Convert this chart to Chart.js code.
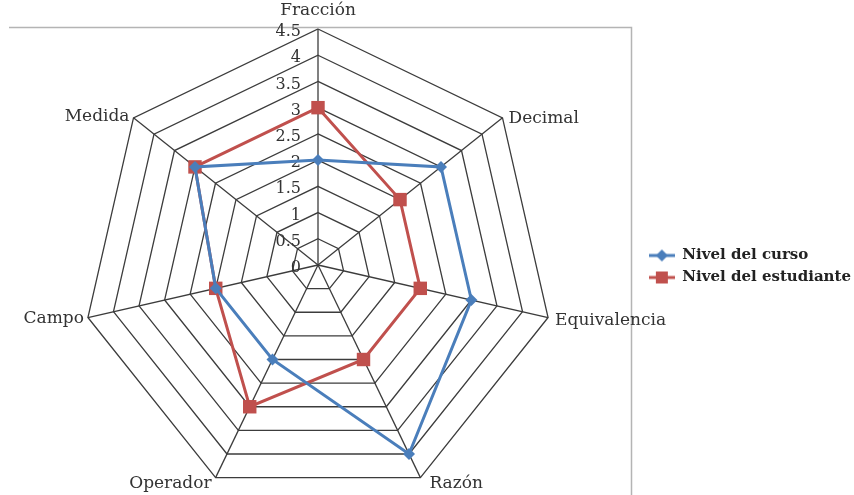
<!DOCTYPE html>
<html>
<head>
<meta charset="utf-8">
<script src="https://cdn.jsdelivr.net/npm/chart.js@4/dist/chart.umd.min.js"></script>
<style>
  html, body { margin: 0; padding: 0; background: #ffffff; }
  #wrap { width: 854px; height: 495px; position: relative; }
</style>
</head>
<body>
<div id="wrap"><canvas id="c" width="854" height="495"></canvas></div>
<script>
// Axes of the radar, clockwise from the top
const categories = ['Fracción', 'Decimal', 'Equivalencia', 'Razón', 'Operador', 'Campo', 'Medida'];
// Level reached on each axis
const nivelCurso = [2, 3, 3, 4, 2, 2, 3];
const nivelEstudiante = [3, 2, 2, 2, 3, 2, 3];
// Radial tick values
const tickValues = [0, 0.5, 1, 1.5, 2, 2.5, 3, 3.5, 4, 4.5];
const seriesNames = ['Nivel del curso', 'Nivel del estudiante'];

const BLUE = '#4A7EBB';
const RED = '#C0504D';
const TEXT = '#333333';
const SERIF = '"DejaVu Serif", "Liberation Serif", serif';

// Legend key: short line with the series marker on top
function legendKey(color, shape) {
  const cv = document.createElement('canvas');
  cv.width = 26; cv.height = 14;
  const g = cv.getContext('2d');
  g.strokeStyle = color; g.lineWidth = 3;
  g.beginPath(); g.moveTo(0, 7); g.lineTo(26, 7); g.stroke();
  g.fillStyle = color;
  g.beginPath();
  if (shape === 'diamond') {
    g.moveTo(13, 1); g.lineTo(19, 7); g.lineTo(13, 13); g.lineTo(7, 7);
  } else {
    g.rect(7, 1, 12, 12);
  }
  g.closePath(); g.fill();
  return cv;
}
const keys = [legendKey(BLUE, 'diamond'), legendKey(RED, 'square')];

// Places the polar grid inside the plot frame
const radarPlacement = {
  id: 'radarPlacement',
  afterLayout(chart) {
    const r = chart.scales.r;
    r.xCenter = 318;
    r.yCenter = 265;
    r.drawingArea = 236;
  }
};

// Plot frame, tick labels and axis names
const radarText = {
  id: 'radarText',
  beforeDatasetsDraw(chart) {
    const ctx = chart.ctx;
    const r = chart.scales.r;
    ctx.save();
    // frame lines (top and right)
    ctx.strokeStyle = '#b4b4b4';
    ctx.lineWidth = 1.5;
    ctx.beginPath();
    ctx.moveTo(9, 27.5); ctx.lineTo(631.5, 27.5); ctx.lineTo(631.5, 495);
    ctx.stroke();
    // tick labels
    ctx.font = '16px ' + SERIF;
    ctx.fillStyle = TEXT;
    ctx.textAlign = 'right';
    ctx.textBaseline = 'middle';
    tickValues.forEach(v => {
      const d = r.getDistanceFromCenterForValue(v);
      ctx.fillText(String(v), r.xCenter - 17, r.yCenter - d + 3);
    });
    ctx.restore();
  },
  afterDraw(chart) {
    const ctx = chart.ctx;
    const r = chart.scales.r;
    const outer = r.getDistanceFromCenterForValue(r.max);
    // per-axis placement of the name next to the outer vertex
    const place = [
      { dx: 0, dy: -14, align: 'center', base: 'alphabetic' },
      { dx: 6, dy: 1, align: 'left', base: 'middle' },
      { dx: 7, dy: 3, align: 'left', base: 'middle' },
      { dx: 9, dy: 6, align: 'left', base: 'middle' },
      { dx: -4, dy: 6, align: 'right', base: 'middle' },
      { dx: -4, dy: 1, align: 'right', base: 'middle' },
      { dx: -4, dy: -1, align: 'right', base: 'middle' }
    ];
    ctx.save();
    ctx.font = '17px ' + SERIF;
    ctx.fillStyle = TEXT;
    categories.forEach((name, i) => {
      const p = r.getPointPosition(i, outer);
      const s = place[i];
      ctx.textAlign = s.align;
      ctx.textBaseline = s.base;
      ctx.fillText(name, p.x + s.dx, p.y + s.dy);
    });
    ctx.restore();
  }
};

new Chart(document.getElementById('c'), {
  type: 'radar',
  data: {
    labels: categories,
    datasets: [
      {
        label: seriesNames[0],
        data: nivelCurso,
        borderColor: BLUE,
        backgroundColor: BLUE,
        borderWidth: 3,
        fill: false,
        pointStyle: 'rectRot',
        pointRadius: 6,
        pointBackgroundColor: BLUE,
        pointBorderColor: BLUE,
        pointBorderWidth: 0,
        clip: false
      },
      {
        label: seriesNames[1],
        data: nivelEstudiante,
        borderColor: RED,
        backgroundColor: RED,
        borderWidth: 3,
        fill: false,
        pointStyle: 'rect',
        pointRadius: 9.5,
        pointBackgroundColor: RED,
        pointBorderColor: RED,
        pointBorderWidth: 0,
        clip: false
      }
    ]
  },
  options: {
    responsive: false,
    animation: false,
    events: [],
    layout: { padding: { top: 38, right: -7, bottom: 0, left: 0 } },
    scales: {
      r: {
        min: 0,
        max: 4.5,
        ticks: { stepSize: 0.5, display: false },
        pointLabels: { display: false },
        grid: { color: '#3c3c3c', lineWidth: 1.3 },
        angleLines: { color: '#3c3c3c', lineWidth: 1.3 }
      }
    },
    plugins: {
      tooltip: { enabled: false },
      legend: {
        position: 'right',
        align: 'center',
        labels: {
          usePointStyle: true,
          pointStyleWidth: 26,
          boxHeight: 14,
          padding: 7,
          color: '#222222',
          font: { family: SERIF, size: 15, weight: 'bold' },
          generateLabels(chart) {
            return chart.data.datasets.map((ds, i) => ({
              text: ds.label,
              pointStyle: keys[i],
              fillStyle: ds.borderColor,
              strokeStyle: ds.borderColor,
              lineWidth: 0,
              hidden: false,
              datasetIndex: i,
              fontColor: '#222222'
            }));
          }
        }
      }
    }
  },
  plugins: [radarPlacement, radarText]
});
</script>
</body>
</html>
